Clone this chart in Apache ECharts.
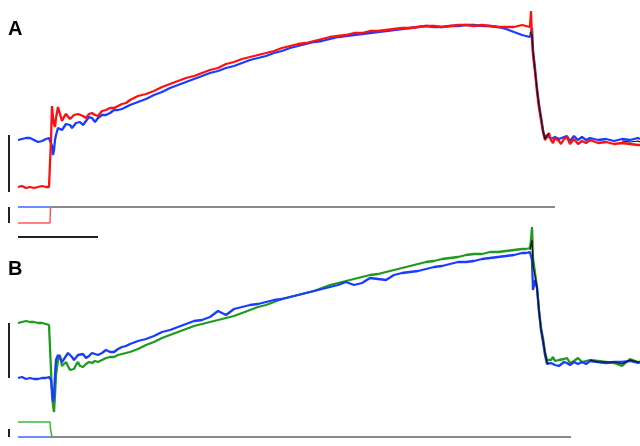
<!DOCTYPE html>
<html>
<head>
<meta charset="utf-8">
<script src="https://cdn.jsdelivr.net/npm/echarts@6/dist/echarts.min.js"></script>
<style>
html,body{margin:0;padding:0;background:#fff;}
#chart{width:640px;height:446px;}
</style>
</head>
<body>
<div id="chart"></div>
<script>
// Time base (ms), step onset at 0 ms, step offset at ~600 ms
const time = [-40,-35,-30,-25,-20,-15,-10,-5,-1.25,0,
1.25,2.5,3.75,5,6.25,7.5,10,12.5,15,17.5,20,22.5,25,27.5,30,32.5,35,37.5,41.25,45,48.75,52.5,56.25,60,65,70,75,80,85,90,95,100,
110,120,130,140,150,160,170,180,190,200,210,220,230,240,250,260,270,280,290,300,310,320,330,340,350,360,370,380,390,400,410,420,430,440,450,460,470,480,490,500,510,520,530,540,550,560,570,580,590,
595,597.5,600,601.25,602.5,603.75,606.25,608.75,611.25,613.75,616.25,618.75,621.25,623.75,626.25,628.75,631.25,633.75,636.25,638.75,642.5,646.25,650,655,660,665,670,675,685,695,705,715,725,735,737.5];

// Panel A traces (deflection, downward-positive units)
const redA = [187,186,188,187,188,187,186,187,187,187,
140,106,118,124,127,118,107,114,121,117,114,116,119,118,115,113,114,113,116,118,114,113,115,116,111,110,108,108,106,104,103,100,
96,94,91,87,84,81,78,76,73,70,68,64,62,59,57,55,53,51,48,46,44,43,41,39,37,36,35,33,33,31,31,30,29,28,28,27,26,26,27,26,25,25,26,25,26,27,27,27,25,
26,27,27,11,40,55,72,92,108,120,132,140,137,133,140,143,138,136,141,144,139,137,144,139,144,141,143,140,143,142,144,143,144,145,145];

const blueA = [140,139,138,138,140,142,141,139,138,139,
140,146,155,150,140,135,128,126,130,128,124,122,125,128,126,123,121,122,125,121,117,118,122,118,115,115,113,110,110,109,107,105,
102,99,95,92,88,85,82,79,76,73,71,68,66,63,60,58,56,53,51,48,46,44,42,41,39,37,36,35,34,33,32,31,30,29,28,27,26,27,27,26,26,25,25,26,26,27,29,32,35,
36,36,37,37,28,50,68,88,104,117,130,138,135,133,139,141,137,135,139,141,137,136,141,136,140,137,140,138,140,139,141,139,140,138,139];

const blackTimeA = [600,601.25,602.5,603.75,606.25,608.75,611.25,613.75,616.25,618.75,621.25,623.75,624,715,725,735,737.5];
const blackA = [32,30,35,52,70,90,106,118,131,139,136,133,null,141,142,141,142];

// Panel B traces
const greenB = [323,322,321,322,322,323,323,324,325,325,
370,395,405,412,395,375,360,355,366,368,362,366,370,368,369,365,362,366,367,364,362,363,361,362,360,358,357,357,355,354,353,352,
349,345,342,338,335,332,329,326,324,322,320,318,316,313,310,307,305,302,299,297,295,293,291,288,285,283,281,279,277,275,274,272,270,268,266,264,262,261,259,258,257,255,254,254,252,252,251,250,249,
249,248,248,240,227,258,273,287,312,328,338,352,360,362,360,357,361,363,360,362,359,358,363,361,358,362,361,360,361,362,363,366,359,362,362];

const blueB = [378,377,379,378,379,379,378,378,377,376,
380,390,402,395,375,360,355,358,362,360,356,353,353,357,360,358,355,353,354,358,356,353,354,355,353,350,352,352,349,347,346,344,
341,339,336,332,330,327,324,321,320,317,311,315,309,307,305,304,302,300,299,297,295,293,291,289,287,285,282,285,283,278,279,280,275,273,272,271,269,267,266,264,262,262,261,259,258,257,256,255,253,
253,252,252,250,260,290,280,288,310,330,342,355,364,366,363,362,365,364,366,364,362,363,365,362,364,362,364,361,362,363,362,362,361,363,362];

const blackTimeB = [600,601.25,602.5,603.75,606.25,608.75,611.25,613.75,616.25,618.75,621.25,623.75,624,675,685,695,705,715,725,735,737.5];
const blackB = [250,245,240,265,276,288,311,329,340,353,362,364,null,360,362,362,362,364,360,362,362];

// Command (stimulus) traces
const cmdBaseTimeA = [1.25, 631.25];   const cmdBaseA = [207, 207];
const cmdBlueTimeA = [-40, 1.25];      const cmdBlueA = [207, 207];
const cmdRedTimeA = [-40, 0, 0.6, 1.25]; const cmdRedA = [223, 223, 207, 207];
const cmdBaseTimeB = [1.25, 651.25];   const cmdBaseB = [437, 437];
const cmdBlueTimeB = [-40, 1.25];      const cmdBlueB = [437, 437];
const cmdGreenTimeB = [-40, 0, 0.6, 2.5, 2.5]; const cmdGreenB = [422, 422, 429, 429, 437];

// Scale bars
const scaleBarTime = [-40, 60];        // 100 ms
const scaleBarLevel = [237, 237];
const scaleBarX = [-51.25, -51.25];
const ampBarA = [135, 192];
const cmdBarA = [207, 223];
const ampBarB = [323, 378];
const cmdBarB = [429, 437];

function pairs(t, v) { return t.map((x, i) => [x, v[i]]); }

function line(name, t, v, color, width, gi, z) {
  return {
    name: name, type: 'line', xAxisIndex: gi, yAxisIndex: gi,
    data: pairs(t, v), showSymbol: false, symbol: 'none',
    connectNulls: false, silent: true, z: z || 2,
    lineStyle: { color: color, width: width }
  };
}

const chart = echarts.init(document.getElementById('chart'));
chart.setOption({
  animation: false,
  backgroundColor: '#ffffff',
  title: [
    { text: 'A', left: 8, top: 19, padding: 0, textStyle: { fontSize: 20, fontWeight: 'bold', fontFamily: 'Liberation Sans', color: '#000' } },
    { text: 'B', left: 8, top: 259, padding: 0, textStyle: { fontSize: 20, fontWeight: 'bold', fontFamily: 'Liberation Sans', color: '#000' } }
  ],
  grid: [
    { left: 0, right: 0, top: 0, height: 250 },
    { left: 0, right: 0, top: 196, height: 250 }
  ],
  xAxis: [
    { gridIndex: 0, type: 'value', min: -62.5, max: 737.5, show: false },
    { gridIndex: 1, type: 'value', min: -62.5, max: 737.5, show: false }
  ],
  yAxis: [
    { gridIndex: 0, type: 'value', min: 0, max: 250, inverse: true, show: false },
    { gridIndex: 1, type: 'value', min: 196, max: 446, inverse: true, show: false }
  ],
  series: [
    line('cmd base A', cmdBaseTimeA, cmdBaseA, '#8a8a8a', 2, 0),
    line('cmd blue A', cmdBlueTimeA, cmdBlueA, '#6f8cff', 2, 0),
    line('cmd red A', cmdRedTimeA, cmdRedA, '#ff5a5a', 1.5, 0),
    line('blue A', time, blueA, '#1a3cff', 2.3, 0, 3),
    line('red A', time, redA, '#ff1010', 2.3, 0, 4),
    line('black A', blackTimeA, blackA, '#111111', 1.2, 0, 5),
    line('time bar', scaleBarTime, scaleBarLevel, '#222', 2, 0),
    line('amp bar A', scaleBarX, ampBarA, '#222', 2, 0),
    line('cmd bar A', scaleBarX, cmdBarA, '#222', 2, 0),

    line('cmd base B', cmdBaseTimeB, cmdBaseB, '#8a8a8a', 2, 1),
    line('cmd blue B', cmdBlueTimeB, cmdBlueB, '#6f8cff', 2, 1),
    line('cmd green B', cmdGreenTimeB, cmdGreenB, '#3cb83c', 1.5, 1),
    line('green B', time, greenB, '#1f9a1f', 2.3, 1, 3),
    line('blue B', time, blueB, '#1a3cff', 2.3, 1, 4),
    line('black B', blackTimeB, blackB, '#111111', 1.2, 1, 5),
    line('amp bar B', scaleBarX, ampBarB, '#222', 2, 1),
    line('cmd bar B', scaleBarX, cmdBarB, '#222', 2, 1)
  ]
});
</script>
</body>
</html>
